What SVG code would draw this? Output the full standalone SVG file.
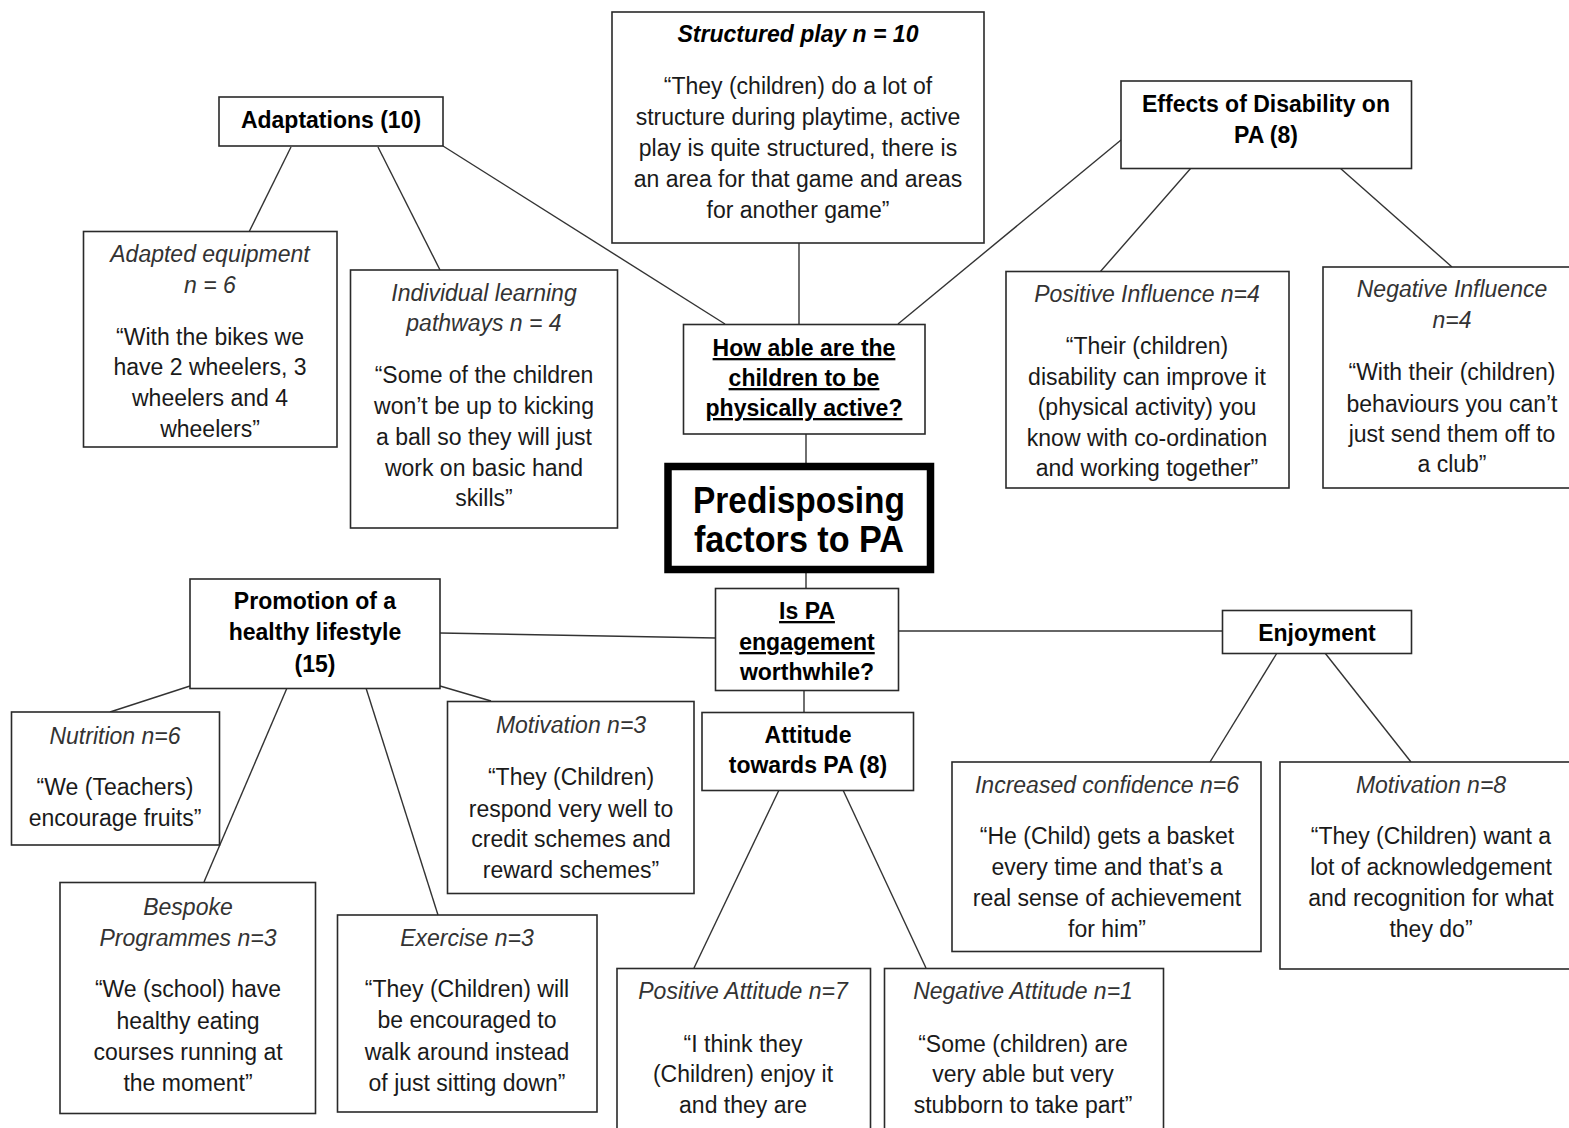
<svg xmlns="http://www.w3.org/2000/svg" width="1569" height="1128" viewBox="0 0 1569 1128">
<style>
.bg{fill:#fff}
.box{fill:#fff;stroke:#2a2a2a;stroke-width:1.6}
.main{fill:#fff;stroke:#000;stroke-width:7.5}
.ln{stroke:#333;stroke-width:1.4;fill:none}
text{font-family:"Liberation Sans",Arial,sans-serif;font-size:23px;fill:#1a1a1a;text-anchor:middle}
.i{font-style:italic;fill:#333}
.b{font-weight:bold;fill:#000}
.u{text-decoration:underline}
.title{font-size:37px;font-weight:bold;fill:#000}
</style>
<rect class="bg" x="0" y="0" width="1569" height="1128"/>
<g id="connectors">
<line class="ln" x1="443" y1="146" x2="725" y2="324"/>
<line class="ln" x1="291" y1="147" x2="249" y2="232"/>
<line class="ln" x1="378" y1="147" x2="440" y2="270"/>
<line class="ln" x1="799" y1="243" x2="799" y2="324"/>
<line class="ln" x1="1121" y1="140" x2="898" y2="324"/>
<line class="ln" x1="1191" y1="168" x2="1100" y2="272"/>
<line class="ln" x1="1340" y1="168" x2="1452" y2="267"/>
<line class="ln" x1="806" y1="434" x2="806" y2="463"/>
<line class="ln" x1="806" y1="573" x2="806" y2="588"/>
<line class="ln" x1="440" y1="633" x2="716" y2="638"/>
<line class="ln" x1="898" y1="631" x2="1222" y2="631"/>
<line class="ln" x1="804" y1="690" x2="804" y2="712"/>
<line class="ln" x1="190" y1="686" x2="110" y2="712"/>
<line class="ln" x1="287" y1="688" x2="204" y2="882"/>
<line class="ln" x1="366" y1="688" x2="438" y2="915"/>
<line class="ln" x1="440" y1="686" x2="491" y2="701"/>
<line class="ln" x1="1277" y1="653" x2="1210" y2="762"/>
<line class="ln" x1="1325" y1="653" x2="1411" y2="762"/>
<line class="ln" x1="779" y1="790" x2="694" y2="968"/>
<line class="ln" x1="843" y1="790" x2="926" y2="968"/>
</g>
<g id="structured-play">
<rect class="box" x="612" y="12" width="372" height="231"/>
<text class="b i" x="798" y="42" style="fill:#000">Structured play n = 10</text>
<text x="798" y="94">“They (children) do a lot of</text>
<text x="798" y="125">structure during playtime, active</text>
<text x="798" y="156">play is quite structured, there is</text>
<text x="798" y="187">an area for that game and areas</text>
<text x="798" y="218">for another game”</text>
</g>
<g id="adaptations">
<rect class="box" x="219" y="97" width="224" height="49"/>
<text class="b" x="331" y="128">Adaptations (10)</text>
</g>
<g id="adapted-equipment">
<rect class="box" x="83.5" y="231.5" width="253.5" height="215.5"/>
<text class="i" x="210" y="262">Adapted equipment</text>
<text class="i" x="210" y="293">n = 6</text>
<text x="210" y="345">“With the bikes we</text>
<text x="210" y="375">have 2 wheelers, 3</text>
<text x="210" y="406">wheelers and 4</text>
<text x="210" y="437">wheelers”</text>
</g>
<g id="individual-learning">
<rect class="box" x="350.5" y="270" width="267" height="258"/>
<text class="i" x="484" y="301">Individual learning</text>
<text class="i" x="484" y="331">pathways n = 4</text>
<text x="484" y="383">“Some of the children</text>
<text x="484" y="414">won’t be up to kicking</text>
<text x="484" y="445">a ball so they will just</text>
<text x="484" y="476">work on basic hand</text>
<text x="484" y="506">skills”</text>
</g>
<g id="how-able">
<rect class="box" x="683.5" y="324.5" width="241.5" height="109.5"/>
<text class="b u" x="804" y="356">How able are the</text>
<text class="b u" x="804" y="386">children to be</text>
<text class="b u" x="804" y="416">physically active?</text>
</g>
<g id="effects-disability">
<rect class="box" x="1121" y="81" width="290.5" height="87.5"/>
<text class="b" x="1266" y="112">Effects of Disability on</text>
<text class="b" x="1266" y="143">PA (8)</text>
</g>
<g id="positive-influence">
<rect class="box" x="1006" y="271.5" width="283" height="216.5"/>
<text class="i" x="1147" y="302">Positive Influence n=4</text>
<text x="1147" y="354">“Their (children)</text>
<text x="1147" y="385">disability can improve it</text>
<text x="1147" y="415">(physical activity) you</text>
<text x="1147" y="446">know with co-ordination</text>
<text x="1147" y="476">and working together”</text>
</g>
<g id="negative-influence">
<rect class="box" x="1323" y="267" width="262" height="221"/>
<text class="i" x="1452" y="297">Negative Influence</text>
<text class="i" x="1452" y="328">n=4</text>
<text x="1452" y="380">“With their (children)</text>
<text x="1452" y="412">behaviours you can’t</text>
<text x="1452" y="442">just send them off to</text>
<text x="1452" y="472">a club”</text>
</g>
<g id="predisposing">
<rect class="main" x="668" y="466.5" width="262.5" height="103"/>
<text class="title" x="799" y="513" textLength="212" lengthAdjust="spacingAndGlyphs">Predisposing</text>
<text class="title" x="799" y="552" textLength="210" lengthAdjust="spacingAndGlyphs">factors to PA</text>
</g>
<g id="promotion">
<rect class="box" x="190" y="579" width="250" height="109.5"/>
<text class="b" x="315" y="609">Promotion of a</text>
<text class="b" x="315" y="640">healthy lifestyle</text>
<text class="b" x="315" y="672">(15)</text>
</g>
<g id="is-pa-worthwhile">
<rect class="box" x="715.5" y="588.5" width="183" height="102"/>
<text class="b u" x="807" y="619">Is PA</text>
<text class="b u" x="807" y="650">engagement</text>
<text class="b" x="807" y="680">worthwhile?</text>
</g>
<g id="enjoyment">
<rect class="box" x="1222.5" y="610.5" width="189" height="43"/>
<text class="b" x="1317" y="641">Enjoyment</text>
</g>
<g id="attitude">
<rect class="box" x="702" y="712.5" width="211.5" height="78"/>
<text class="b" x="808" y="743">Attitude</text>
<text class="b" x="808" y="773">towards PA (8)</text>
</g>
<g id="nutrition">
<rect class="box" x="11.5" y="712" width="208" height="133"/>
<text class="i" x="115" y="744">Nutrition n=6</text>
<text x="115" y="795">“We (Teachers)</text>
<text x="115" y="826">encourage fruits”</text>
</g>
<g id="motivation-3">
<rect class="box" x="447.5" y="701.5" width="246.5" height="192"/>
<text class="i" x="571" y="733">Motivation n=3</text>
<text x="571" y="785">“They (Children)</text>
<text x="571" y="817">respond very well to</text>
<text x="571" y="847">credit schemes and</text>
<text x="571" y="878">reward schemes”</text>
</g>
<g id="bespoke">
<rect class="box" x="60" y="882.5" width="255.5" height="231"/>
<text class="i" x="188" y="915">Bespoke</text>
<text class="i" x="188" y="946">Programmes n=3</text>
<text x="188" y="997">“We (school) have</text>
<text x="188" y="1029">healthy eating</text>
<text x="188" y="1060">courses running at</text>
<text x="188" y="1091">the moment”</text>
</g>
<g id="exercise">
<rect class="box" x="337.5" y="915" width="259.5" height="197"/>
<text class="i" x="467" y="946">Exercise n=3</text>
<text x="467" y="997">“They (Children) will</text>
<text x="467" y="1028">be encouraged to</text>
<text x="467" y="1060">walk around instead</text>
<text x="467" y="1091">of just sitting down”</text>
</g>
<g id="increased-confidence">
<rect class="box" x="952" y="762" width="309" height="189.5"/>
<text class="i" x="1107" y="793">Increased confidence n=6</text>
<text x="1107" y="844">“He (Child) gets a basket</text>
<text x="1107" y="875">every time and that’s a</text>
<text x="1107" y="906">real sense of achievement</text>
<text x="1107" y="937">for him”</text>
</g>
<g id="motivation-8">
<rect class="box" x="1280" y="762" width="300" height="207"/>
<text class="i" x="1431" y="793">Motivation n=8</text>
<text x="1431" y="844">“They (Children) want a</text>
<text x="1431" y="875">lot of acknowledgement</text>
<text x="1431" y="906">and recognition for what</text>
<text x="1431" y="937">they do”</text>
</g>
<g id="positive-attitude">
<rect class="box" x="617" y="968.5" width="253.5" height="200"/>
<text class="i" x="743" y="999">Positive Attitude n=7</text>
<text x="743" y="1052">“I think they</text>
<text x="743" y="1082">(Children) enjoy it</text>
<text x="743" y="1113">and they are</text>
</g>
<g id="negative-attitude">
<rect class="box" x="884.5" y="968.5" width="279" height="200"/>
<text class="i" x="1023" y="999">Negative Attitude n=1</text>
<text x="1023" y="1052">“Some (children) are</text>
<text x="1023" y="1082">very able but very</text>
<text x="1023" y="1113">stubborn to take part”</text>
</g>
</svg>
